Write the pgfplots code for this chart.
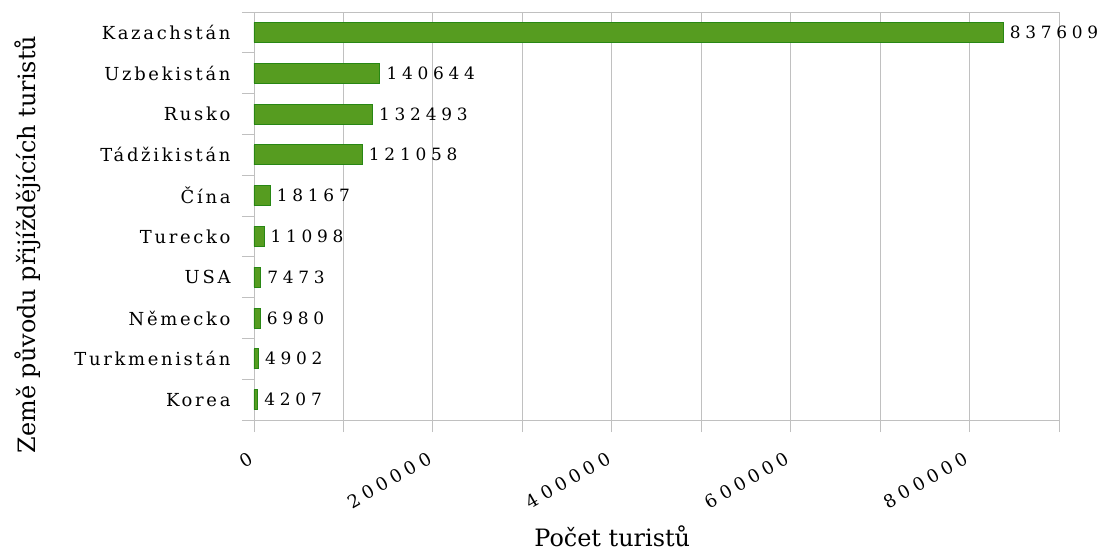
\documentclass[border=0pt]{standalone}
\usepackage{fontspec}
\setmainfont{DejaVu Serif}
\newfontfamily\catfont[LetterSpace=15]{DejaVu Serif}
\newfontfamily\numfont[LetterSpace=28]{DejaVu Serif}
\usepackage{pgfplots}
\pgfplotsset{compat=1.18}

\definecolor{bargreen}{RGB}{86,156,32}
\definecolor{baredge}{RGB}{40,135,20}
\definecolor{gridgray}{RGB}{192,192,192}

\begin{document}
\begin{tikzpicture}
\useasboundingbox (-254bp,-131bp) rectangle (850bp,420bp);
\begin{axis}[
    scale only axis,
    width=805bp, height=408bp,
    xbar, bar width=20bp,
    xmin=0, xmax=900000,
    ymin=-0.5, ymax=9.5,
    y dir=reverse,
    /pgf/number format/assume math mode=true,
    scaled x ticks=false,
    xtick={0,100000,...,900000},
    xticklabels={0,,200000,,400000,,600000,,800000,},
    ytick={-0.5,0.5,...,9.5},
    yticklabels={},
    extra y ticks={0,...,9},
    extra y tick labels={Kazachstán,Uzbekistán,Rusko,Tádžikistán,Čína,Turecko,USA,Německo,Turkmenistán,Korea},
    extra y tick style={major tick length=0bp, grid=none,
        yticklabel style={font=\catfont\fontsize{18}{18}\selectfont, xshift=-20bp}},
    tick pos=left,
    tick align=outside,
    major tick length=12bp,
    tick style={gridgray, line width=0.8bp},
    axis line style={gridgray, line width=0.8bp},
    xmajorgrids,
    grid style={gridgray, line width=0.8bp},
    xticklabel style={font=\numfont\fontsize{18}{18}\selectfont, xshift=0bp, yshift=-23bp, rotate=30, anchor=east},
    nodes near coords,
    nodes near coords style={font=\numfont\fontsize{17}{17}\selectfont, anchor=west, text=black, xshift=3bp},
    /pgf/number format/.cd, fixed, precision=0, 1000 sep={},
    /pgfplots/.cd,
    xlabel={Počet turistů},
    ylabel={Země původu přijíždějících turistů},
    xlabel style={font=\fontsize{24}{24}\selectfont, at={(axis description cs:0.445,-0.285)}, anchor=center},
    ylabel style={font=\fontsize{24}{24}\selectfont, at={(axis description cs:-0.281,0.43)}, anchor=center},
]
\addplot[fill=bargreen, draw=baredge, line width=0.8bp] coordinates {
    (837609,0) (140644,1) (132493,2) (121058,3) (18167,4)
    (11098,5) (7473,6) (6980,7) (4902,8) (4207,9)
};
\end{axis}
\end{tikzpicture}
\end{document}
